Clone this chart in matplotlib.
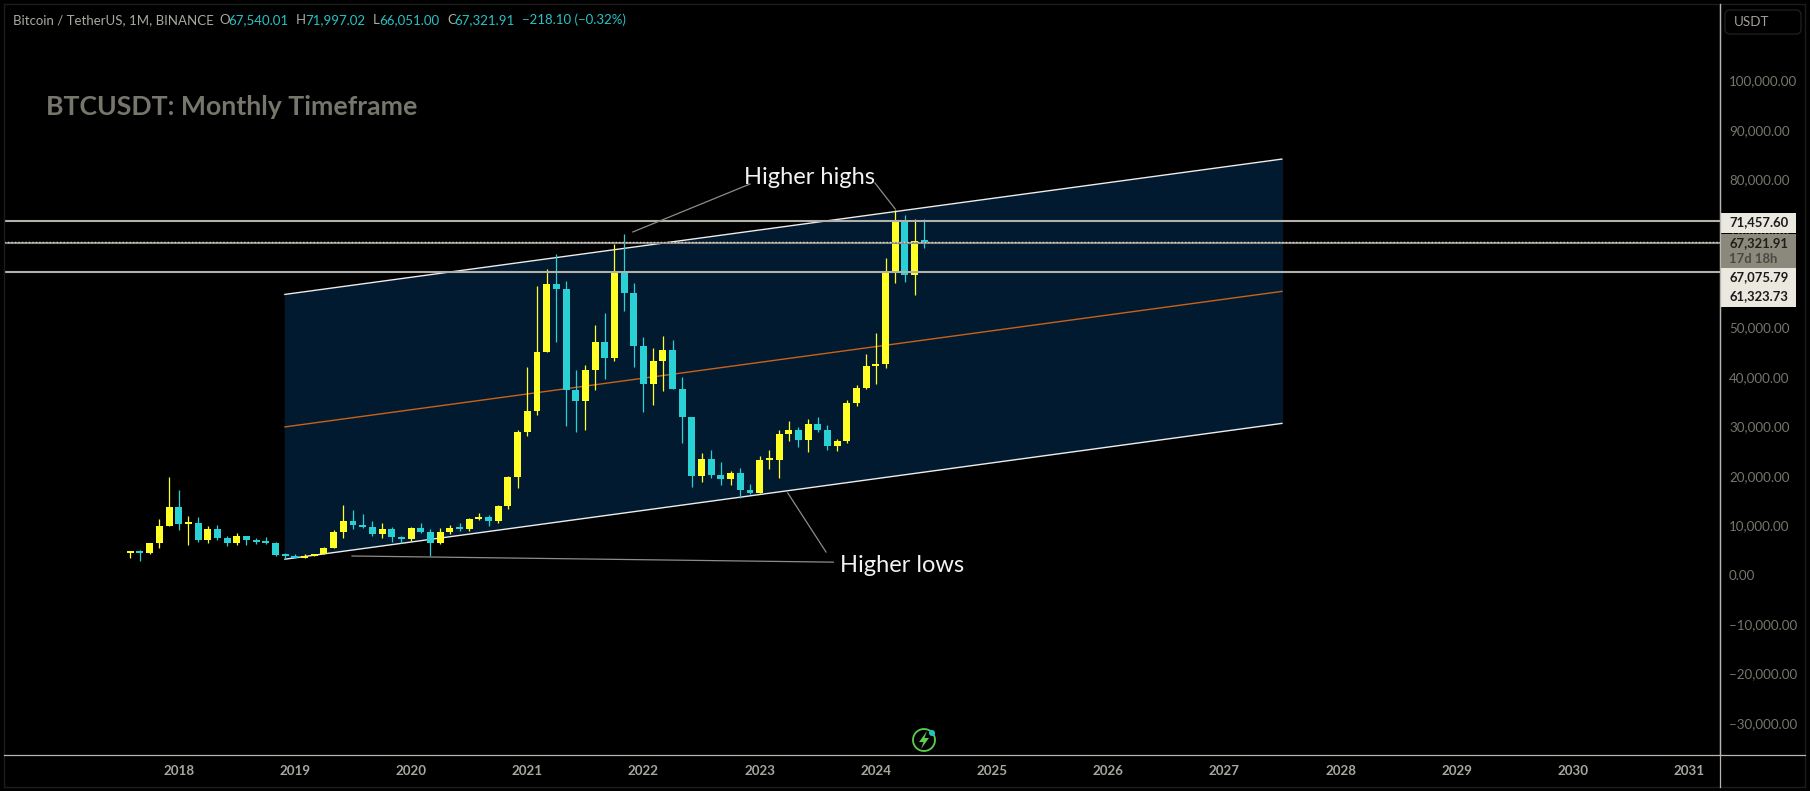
"""Bitcoin / TetherUS monthly candles with rising channel, dark chart view."""
import matplotlib
matplotlib.use("Agg")
import matplotlib.pyplot as plt
import numpy as np
from matplotlib.patches import Circle, FancyBboxPatch, Polygon, Rectangle

# ---- data: monthly candles, Aug 2017 .. Jun 2024 ----
opens = [4261, 4689, 4378, 6463, 9837, 13715, 10285, 10325, 6922, 9246, 7485, 6391,
         7735, 7011, 6626, 6370, 4041, 3701, 3434, 3814, 4102, 5321, 8555, 10854,
         10084, 9600, 8289, 9140, 7541, 7195, 9352, 8523, 6412, 8620, 9448, 9138,
         11335, 11649, 10776, 13791, 19700, 28923, 33092, 45134, 58739, 57697, 37253, 35045,
         41461, 47100, 43820, 61300, 56950, 46216, 38466, 43160, 45510, 37630, 31801, 19942,
         23296, 20048, 19422, 20490, 17165, 16541, 23125, 23141, 28465, 29233, 27210, 30471,
         29232, 25940, 26962, 34639, 37723, 42283, 42580, 61130, 71280, 60672, 67540]
highs = [4745, 4939, 6470, 11300, 19798, 17176, 11786, 11710, 9759, 10020, 7786, 8450,
         7750, 7410, 7680, 6587, 4312, 4069, 4198, 4140, 5600, 9074, 13970, 13147,
         12325, 10905, 10370, 9531, 7750, 9578, 10500, 9188, 9460, 10067, 10380, 11444,
         12468, 12050, 14100, 19863, 29300, 41950, 58352, 61844, 64854, 59500, 41330, 42448,
         50500, 52920, 67000, 69000, 59053, 47990, 45821, 48189, 47444, 40023, 31982, 24668,
         25202, 22799, 20988, 21480, 18387, 23960, 25250, 29184, 31000, 29820, 31431, 31804,
         30225, 27483, 35280, 38450, 44700, 48969, 64000, 73777, 72797, 71979, 71997]
lows = [3400, 2817, 4110, 5325, 9722, 9035, 6000, 6600, 6430, 7032, 5750, 6070,
        5880, 6100, 6200, 3652, 3156, 3349, 3373, 3670, 4067, 5316, 7444, 9110,
        9320, 7710, 7300, 6515, 6435, 6871, 8450, 3782, 6150, 8117, 8833, 8893,
        11000, 9825, 10374, 13195, 17572, 28130, 32296, 44950, 47000, 30000, 28805, 29278,
        37332, 39600, 43283, 53256, 42000, 32917, 34322, 37155, 37578, 26700, 17622, 18781,
        19600, 18125, 18190, 15476, 16256, 16499, 21351, 19549, 26942, 25811, 24800, 28861,
        25166, 24901, 26538, 34097, 37615, 38555, 41884, 59005, 59191, 56552, 66051]
closes = [4724, 4378, 6463, 9838, 13716, 10285, 10326, 6923, 9246, 7485, 6390, 7730,
          7011, 6626, 6371, 4041, 3702, 3434, 3814, 4103, 5320, 8555, 10855, 10085,
          9600, 8289, 9140, 7541, 7195, 9353, 8523, 6410, 8620, 9448, 9138, 11335,
          11649, 10776, 13791, 19700, 28923, 33092, 45135, 58740, 57694, 37254, 35045, 41461,
          47100, 43824, 61299, 56950, 46216, 38466, 43160, 45510, 37630, 31801, 19942, 23293,
          20050, 19422, 20490, 17164, 16542, 23125, 23141, 28465, 29233, 27210, 30472, 29232,
          25940, 26962, 34639, 37723, 42283, 42580, 61130, 71280, 60672, 67540, 67321.91]

# channel, in months since Aug 2017 and price
channel_x = [15.9, 119.0]
channel_upper = [56680, 84110]
channel_mid = [29860, 57330]
channel_lower = [3077, 30607]

level_prices = [71457.60, 67075.79, 61323.73]
last_price = 67321.91

# leader lines: (months), (prices)
leader_lines = [
    ([51.9, 64.0], [69340, 79050]),
    ([76.9, 79.0], [79250, 73990]),
    ([67.9, 71.85], [16500, 4555]),
    ([22.9, 72.6], [3745, 2500]),
]

year_labels = [str(y) for y in range(2018, 2032)]
year_ticks = [5 + 12 * i for i in range(len(year_labels))]
price_ticks = list(range(-30000, 100001, 10000))

BG = "#000000"
UP = "#ffff26"
DOWN = "#29d0d4"
FILL = "#021a2f"
LEVEL = "#b3b1a9"
AXIS = "#b8b6ae"
FONT = ["Lato", "DejaVu Sans"]

W, H = 1810, 791
# pixel calibration of the chart pane
X0, DX = 130.3, 9.683
Y0, DY = 574.5, 49.4 / 10000
PANE_L, PANE_R, PANE_T, PANE_B = 4, 1719.5, 4, 755

plt.rcParams["font.family"] = FONT

fig = plt.figure(figsize=(W / 100, H / 100), dpi=100, facecolor=BG)
ax = fig.add_axes([PANE_L / W, 1 - PANE_B / H, (PANE_R - PANE_L) / W, (PANE_B - PANE_T) / H])
ax.set_facecolor(BG)
ax.set_xlim((PANE_L - X0) / DX, (PANE_R - X0) / DX)
ax.set_ylim((Y0 - PANE_B) / DY, (Y0 - PANE_T) / DY)

# channel sits behind the candles
ax.fill_between(channel_x, channel_lower, channel_upper, color=FILL, lw=0, zorder=1)
ax.plot(channel_x, channel_upper, color="#ececec", lw=1.0, zorder=2, solid_capstyle="butt")
ax.plot(channel_x, channel_lower, color="#ececec", lw=1.0, zorder=2, solid_capstyle="butt")
ax.plot(channel_x, channel_mid, color="#c9611c", lw=1.0, zorder=2, solid_capstyle="butt")

# candles
months = np.arange(len(opens))
o, h, l, c = map(np.array, (opens, highs, lows, closes))
colors = [UP if cl >= op else DOWN for op, cl in zip(o, c)]
ax.vlines(months, l, h, colors=colors, lw=0.9, zorder=3)
body_low = np.minimum(o, c)
body_h = np.maximum(np.abs(c - o), 400)  # dojis keep about 2 px of body
ax.bar(months, body_h, bottom=body_low, width=0.72, color=colors, lw=0, zorder=4,
       antialiased=False)

ax.axhline(level_prices[0], color=LEVEL, lw=1.5, zorder=5)
ax.axhline(level_prices[2], color=LEVEL, lw=1.5, zorder=5)
ax.axhline(level_prices[1], color="#8c8a82", lw=1.5, zorder=5)
ax.axhline(last_price, color="#d8d6ce", lw=1.0, ls=(0, (1, 1.5)), zorder=6)

for xs, ys in leader_lines:
    ax.plot(xs, ys, color="#8d8c86", lw=0.9, zorder=6)

for side in ("left", "top", "bottom"):
    ax.spines[side].set_visible(False)
ax.spines["right"].set_color(AXIS)
ax.spines["right"].set_linewidth(0.9)

ax.yaxis.tick_right()
ax.set_yticks(price_ticks)
ax.set_yticklabels([f"{v:,.2f}".replace("-", "\u2212") for v in price_ticks],
                   fontsize=9.6, color="#77756c")
ax.set_xticks(year_ticks)
ax.set_xticklabels(year_labels, fontsize=9.6, color="#a8a69e", fontweight="bold")
ax.tick_params(axis="y", length=0, pad=6.8)
ax.tick_params(axis="x", length=0, pad=7.5)

ax.text(70.1, (Y0 - 177) / DY, "Higher highs", color="#f2f2f2", fontsize=17,
        ha="center", va="center", zorder=7)
ax.text(79.7, (Y0 - 566) / DY, "Higher lows", color="#f2f2f2", fontsize=17,
        ha="center", va="center", zorder=7)

# ---- overlay in pixel coordinates: chrome, price pills, header ----
ui = fig.add_axes([0, 0, 1, 1], zorder=10)
ui.set_xlim(0, W)
ui.set_ylim(H, 0)
ui.axis("off")
ui.patch.set_alpha(0)

ui.plot([4, 4], [4, 787], color="#1c1c1c", lw=1)
ui.plot([4, 1805], [4, 4], color="#1c1c1c", lw=1)
ui.plot([1805, 1805], [4, 787], color="#1c1c1c", lw=1)
ui.plot([4, 1805], [787, 787], color="#1c1c1c", lw=1)
ui.plot([PANE_R, PANE_R], [4, 787], color=AXIS, lw=0.9)
ui.plot([4, 1805], [PANE_B, PANE_B], color=AXIS, lw=0.9)

ui.add_patch(FancyBboxPatch((1725, 10), 76, 24, boxstyle="round,pad=0,rounding_size=5",
                            fc="none", ec="#1e1e1e", lw=1))
ui.text(1734, 22.5, "USDT", color="#a3a197", fontsize=9.6, va="center")

PILL = "#ebe8df"
ui.add_patch(Rectangle((1719.5, 213), 76, 19.5, fc=PILL, lw=0))
ui.add_patch(Rectangle((1719.5, 234), 76, 34, fc="#8b897c", lw=0))
ui.add_patch(Rectangle((1719.5, 268), 76, 20, fc=PILL, lw=0))
ui.add_patch(Rectangle((1719.5, 288), 76, 18.5, fc=PILL, lw=0))
for txt, y, col in [("71,457.60", 222, "#1a1a1a"), ("67,321.91", 243, "#1e1e1a"),
                    ("17d 18h", 259, "#4a4943"), ("67,075.79", 277.5, "#1a1a1a"),
                    ("61,323.73", 296.5, "#1a1a1a")]:
    ui.text(1729, y, txt, color=col, fontsize=9.4, fontweight="bold", va="center", ha="left")

GRAY = "#aaa89f"
TEAL = "#27c3c7"
header = [(13.4, "Bitcoin / TetherUS, 1M, BINANCE", GRAY), (219, "O", GRAY), (228.6, "67,540.01", TEAL),
          (296, "H", GRAY), (305, "71,997.02", TEAL), (373, "L", GRAY), (379.5, "66,051.00", TEAL),
          (447, "C", GRAY), (454.5, "67,321.91", TEAL), (522, "\u2212218.10 (\u22120.32%)", TEAL)]
for x, txt, col in header:
    ui.text(x, 20, txt, color=col, fontsize=9.5, va="center", ha="left")

ui.text(46, 107, "BTCUSDT: Monthly Timeframe", color="#77766c", fontsize=19.2,
        fontweight="bold", va="center", ha="left")

# status icon
ui.add_patch(Circle((924, 740), 11, fc="none", ec="#5ccf4e", lw=1.3))
ui.add_patch(Polygon([(927, 731), (919, 742), (923.5, 742), (921, 749), (929, 738), (924.5, 738)],
                     fc="#5ccf4e", lw=0))
ui.add_patch(Circle((932, 733), 3, fc="#1fc4c4", lw=0))

fig.savefig("out.png", dpi=100, facecolor=BG)
